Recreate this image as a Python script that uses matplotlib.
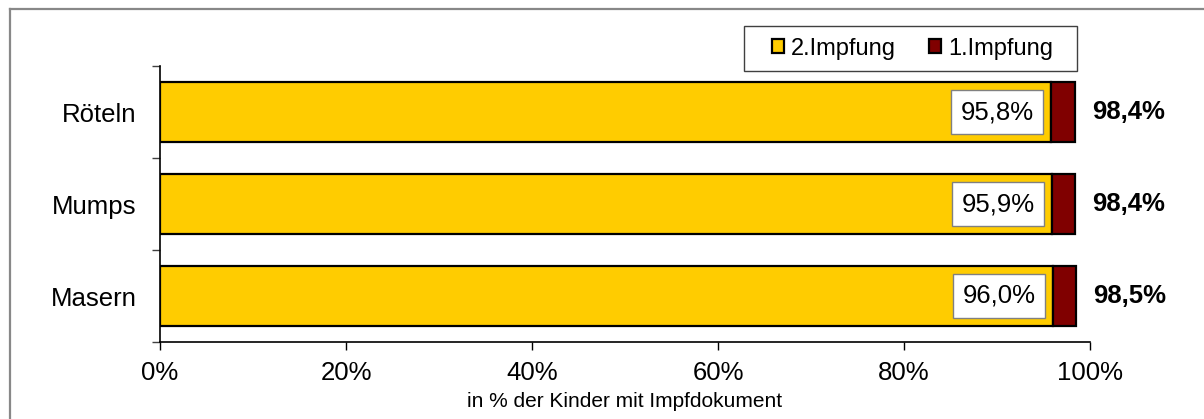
import matplotlib
matplotlib.use("Agg")
import matplotlib.pyplot as plt
from matplotlib.lines import Line2D
from matplotlib.patches import Rectangle
import numpy as np

plt.rcParams["font.family"] = ["Liberation Sans", "DejaVu Sans"]

# data (bottom to top)
categories = ["Masern", "Mumps", "Röteln"]
second_dose = [96.0, 95.9, 95.8]      # 2.Impfung
first_dose = [2.5, 2.5, 2.6]          # 1.Impfung (nur erste)
totals = [98.5, 98.4, 98.4]
second_labels = ["96,0%", "95,9%", "95,8%"]
total_labels = ["98,5%", "98,4%", "98,4%"]
xticks = [0, 20, 40, 60, 80, 100]
xtick_labels = ["0%", "20%", "40%", "60%", "80%", "100%"]

YELLOW = "#FFCC00"
DARKRED = "#800000"
FS = 18.5

W, H = 1204, 419
fig = plt.figure(figsize=(W / 100, H / 100), dpi=100)
ax = fig.add_axes([160 / W, 1 - 342 / H, 930 / W, 276 / H])

y = np.arange(len(categories))
bh = 0.66
ax.barh(y, second_dose, height=bh, color=YELLOW, edgecolor="black", linewidth=1.6,
        label="2.Impfung")
ax.barh(y, first_dose, left=second_dose, height=bh, color=DARKRED, edgecolor="black",
        linewidth=1.6, label="1.Impfung")

for yi, s, sl, t, tl in zip(y, second_dose, second_labels, totals, total_labels):
    ax.annotate(sl, xy=(s, yi), xytext=(-12.5, 0), textcoords="offset points",
                ha="right", va="center", fontsize=FS,
                bbox=dict(boxstyle="square,pad=0.38", facecolor="white",
                          edgecolor="#808080", linewidth=1))
    ax.annotate(tl, xy=(t, yi), xytext=(12, 0), textcoords="offset points",
                ha="left", va="center", fontsize=FS, fontweight="bold")

ax.set_xlim(0, 100)
ax.set_ylim(-0.5, len(categories) - 0.5)
ax.set_xticks(xticks)
ax.set_xticklabels(xtick_labels, fontsize=FS)
ax.tick_params(axis="x", direction="out", length=6, width=1, pad=8)

# category ticks at band borders, labels centred
ax.set_yticks(np.arange(-0.5, len(categories), 1.0))
ax.set_yticklabels([])
ax.set_yticks(y, minor=True)
ax.set_yticklabels(categories, minor=True, fontsize=FS)
ax.tick_params(axis="y", which="major", direction="out", length=6, width=1, color="#404040")
ax.tick_params(axis="y", which="minor", length=0, pad=17)

ax.spines["top"].set_visible(False)
ax.spines["right"].set_visible(False)
ax.spines["left"].set_linewidth(1.2)
ax.spines["bottom"].set_linewidth(1.2)

ax.set_xlabel("in % der Kinder mit Impfdokument", fontsize=15, labelpad=5)

# legend without own frame, box drawn separately
fig.legend(loc="center left", bbox_to_anchor=(772 / W, 1 - 48.5 / H), ncol=2,
           fontsize=17, frameon=False, borderaxespad=0, borderpad=0,
           handlelength=0.5, handleheight=0.5, handletextpad=0.3, columnspacing=1.4)
fig.add_artist(Rectangle((744 / W, 1 - 71 / H), 333 / W, 45 / H, transform=fig.transFigure,
                         facecolor="none", edgecolor="#404040", linewidth=1))

# outer chart frame (top and left only)
fig.add_artist(Line2D([10 / W, 10 / W], [0, 1 - 9 / H], transform=fig.transFigure,
                      color="#888888", linewidth=1.6))
fig.add_artist(Line2D([10 / W, 1], [1 - 9 / H, 1 - 9 / H], transform=fig.transFigure,
                      color="#888888", linewidth=1.6))

fig.savefig("out.png", dpi=100)
